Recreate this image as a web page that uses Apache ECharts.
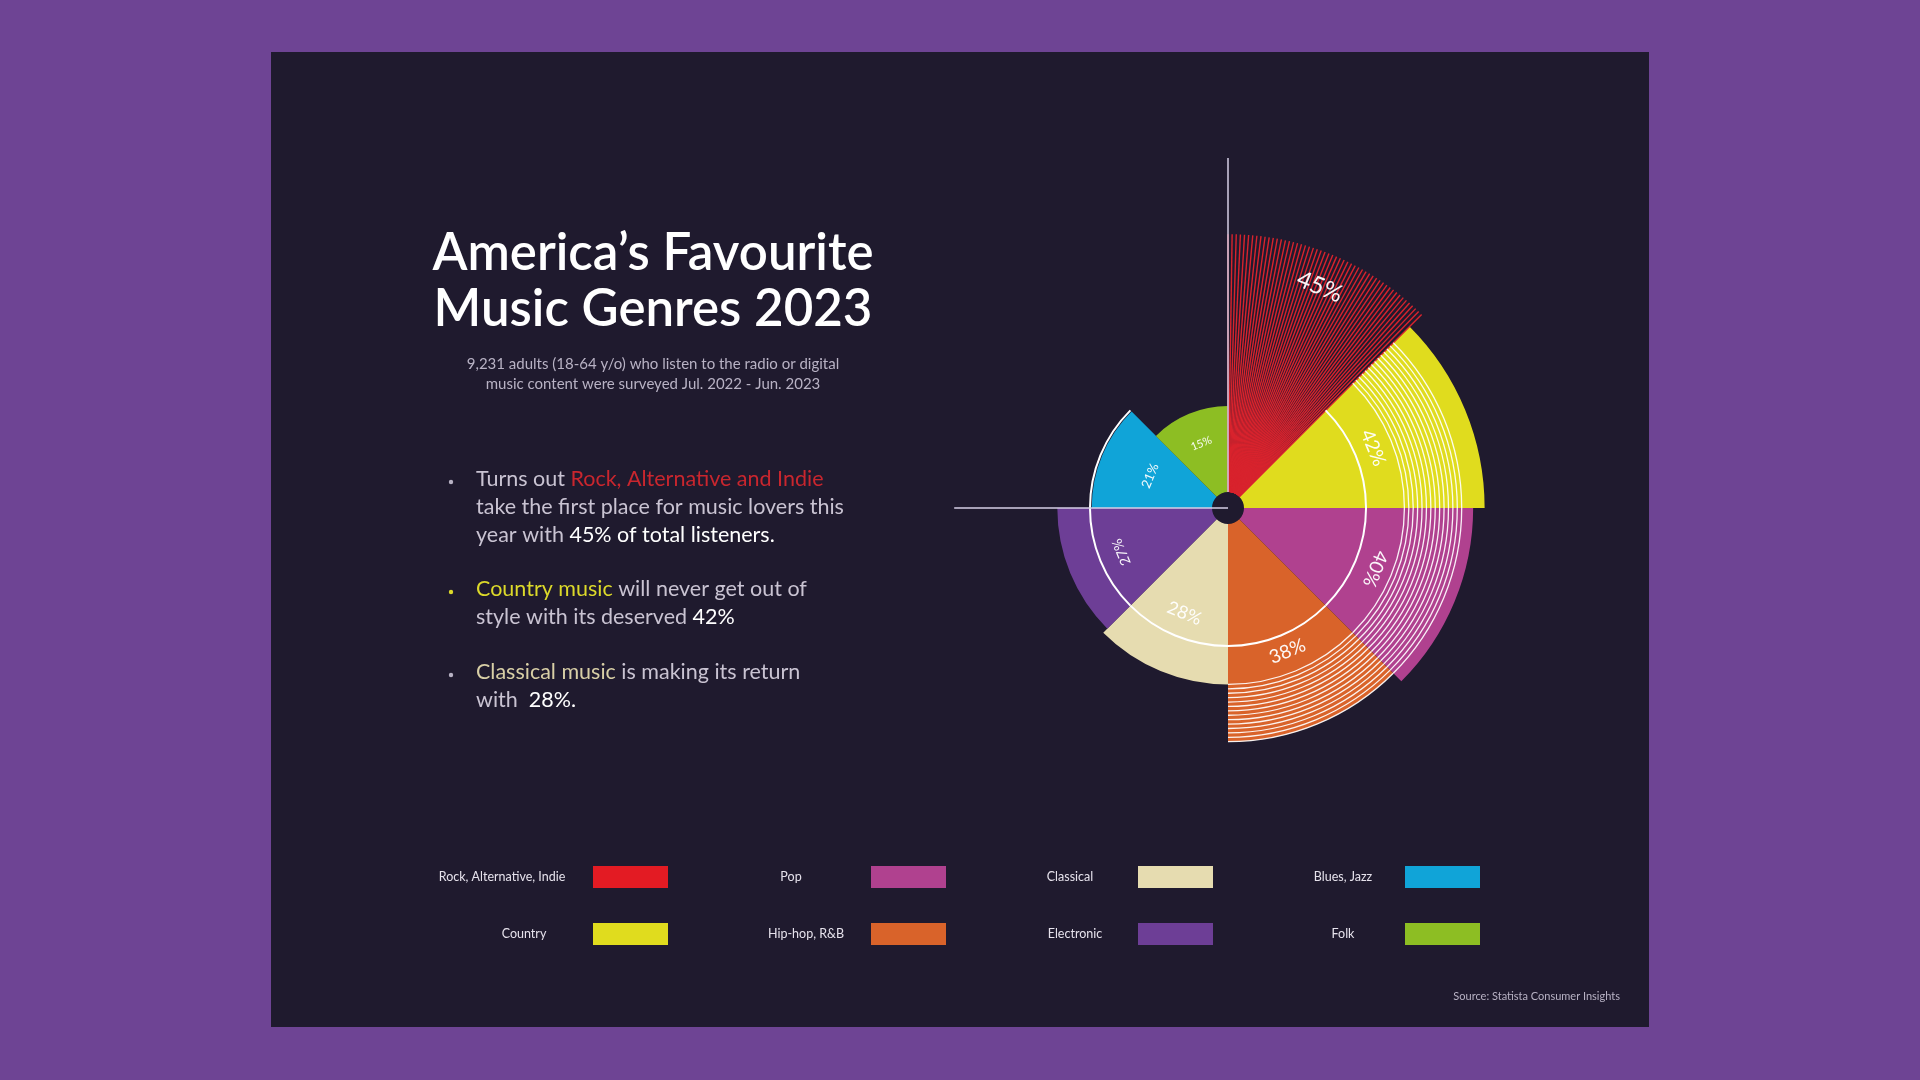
<!DOCTYPE html>
<html>
<head>
<meta charset="utf-8">
<script src="https://cdn.jsdelivr.net/npm/echarts@6/dist/echarts.min.js"></script>
<style>
  html, body { margin: 0; padding: 0; background: #6e4494; }
  #chart { width: 1920px; height: 1080px; }
</style>
</head>
<body>
<div id="chart"></div>
<script>
// data
const genres = ['Rock, Alternative, Indie', 'Country', 'Pop', 'Hip-hop, R&B', 'Classical', 'Electronic', 'Blues, Jazz', 'Folk'];
const shares = [45, 42, 40, 38, 28, 27, 21, 15];
const colors = ['#e31b23', '#e0dc1e', '#b0418f', '#d9632a', '#e6dcb0', '#6d3e96', '#10a4d8', '#8dbe23'];

// decoration settings (style, not data)
const striped = [false, true, true, true, false, false, false, false];
const labelRadius = [39, 24.6, 25, 24.3, 17.1, 17.3, 11.9, 9.4];
const labelSize = [24, 19, 19, 19, 18, 14, 13, 11];
const labelFlip = [false, false, false, true, true, false, false, false];
const ringValue = 21.3;
const stripeFrom = 28, stripeTo = 38, stripeCount = 14;
const axisMax = 58.3;

const chart = echarts.init(document.getElementById('chart'), null, { renderer: 'canvas' });

function pt(cs, v, deg) {
    const rr = cs.r0 + v / axisMax * (cs.r - cs.r0);
    const a = (deg - 90) * Math.PI / 180;
    return [cs.cx + rr * Math.cos(a), cs.cy + rr * Math.sin(a)];
}
function rad(cs, v) { return cs.r0 + v / axisMax * (cs.r - cs.r0); }

function renderDeco(params, api) {
    const cs = params.coordSys;
    const i = params.dataIndex;
    const v = api.value(0);
    const a0 = i * 45, a1 = a0 + 45, mid = a0 + 22.5;
    const children = [];
    const toRad = d => (d - 90) * Math.PI / 180;
    if (i === 0) {
        // hatched fan for the leading genre
        const n = 52;
        for (let k = 0; k <= n; k++) {
            const d = a0 + 45 * k / n;
            const p0 = pt(cs, 0, d), p1 = pt(cs, v, d);
            children.push({ type: 'line', shape: { x1: p0[0], y1: p0[1], x2: p1[0], y2: p1[1] },
                style: { stroke: '#d8232d', lineWidth: 1.4 } });
        }
        // axes lines
        const t0 = pt(cs, 0, 0), t1 = pt(cs, axisMax, 0);
        children.push({ type: 'line', shape: { x1: t0[0], y1: t0[1], x2: t1[0], y2: t1[1] },
            style: { stroke: '#d6cfe6', lineWidth: 1.5 }, z2: 5 });
        const l1 = pt(cs, 45, 270);
        children.push({ type: 'line', shape: { x1: cs.cx, y1: cs.cy, x2: l1[0], y2: l1[1] },
            style: { stroke: '#d6cfe6', lineWidth: 1.5 }, z2: 5 });
    }
    if (striped[i]) {
        for (let k = 0; k < stripeCount; k++) {
            const sv = stripeFrom + (stripeTo - stripeFrom) * k / (stripeCount - 1);
            children.push({ type: 'arc', shape: { cx: cs.cx, cy: cs.cy, r: rad(cs, sv),
                startAngle: toRad(a0), endAngle: toRad(a1), clockwise: true },
                style: { stroke: 'rgba(255,255,255,0.92)', lineWidth: 1.3, fill: null } });
        }
    }
    if (i > 0 && i < 7) {
        children.push({ type: 'arc', shape: { cx: cs.cx, cy: cs.cy, r: rad(cs, ringValue),
            startAngle: toRad(a0), endAngle: toRad(a1), clockwise: true },
            style: { stroke: '#ffffff', lineWidth: 2, fill: null } });
    }
    const lp = pt(cs, labelRadius[i], mid);
    const rot = labelFlip[i] ? mid - 180 : mid;
    children.push({ type: 'text', x: lp[0], y: lp[1], rotation: -rot * Math.PI / 180,
        style: { text: v + '%', fill: '#ffffff', fontSize: labelSize[i], fontFamily: 'Lato',
            align: 'center', verticalAlign: 'middle', opacity: 0.95 }, z2: 10 });
    return { type: 'group', children: children };
}

const cx = 1228, cy = 508;
const legendText = [[502, 791, 1070, 1343], [524, 806, 1075, 1343]];
const legendRect = [593, 871, 1138, 1405];
const legendRow = [877, 934];

const body = '21.5px Lato';
const graphics = [
    { type: 'rect', shape: { x: 271, y: 52, width: 1378, height: 975 }, style: { fill: '#1f1a2e' }, z: -10 },
    { type: 'text', x: 653, y: 282, style: { text: 'America’s Favourite\nMusic Genres 2023', fill: '#ffffff',
        font: '600 51px Lato', align: 'center', verticalAlign: 'middle', lineHeight: 56 } },
    { type: 'text', x: 653, y: 374, style: { text: '9,231 adults (18-64 y/o) who listen to the radio or digital\nmusic content were surveyed Jul. 2022 - Jun. 2023',
        fill: '#b8b2c4', font: '15px Lato', align: 'center', verticalAlign: 'middle', lineHeight: 20 } },
    { type: 'text', x: 476, y: 507, style: {
        text: '{g|Turns out }{r|Rock, Alternative and Indie}\n{g|take the first place for music lovers this}\n{g|year with }{w|45% of total listeners.}',
        verticalAlign: 'middle', lineHeight: 28,
        rich: { g: { fill: '#c9c3d2', font: body }, r: { fill: '#c9262e', font: body }, w: { fill: '#ffffff', font: body } } } },
    { type: 'text', x: 476, y: 603, style: {
        text: '{y|Country music}{g| will never get out of}\n{g|style with its deserved }{w|42%}',
        verticalAlign: 'middle', lineHeight: 28,
        rich: { g: { fill: '#c9c3d2', font: body }, y: { fill: '#dcd92a', font: body }, w: { fill: '#ffffff', font: body } } } },
    { type: 'text', x: 476, y: 686, style: {
        text: '{c|Classical music}{g| is making its return}\n{g|with  }{w|28%.}',
        verticalAlign: 'middle', lineHeight: 28,
        rich: { g: { fill: '#c9c3d2', font: body }, c: { fill: '#d8cfa6', font: body }, w: { fill: '#ffffff', font: body } } } },
    { type: 'circle', shape: { cx: 451, cy: 482, r: 2.2 }, style: { fill: '#b8b2c4' } },
    { type: 'circle', shape: { cx: 451, cy: 592, r: 2.2 }, style: { fill: '#dcd92a' } },
    { type: 'circle', shape: { cx: 451, cy: 675, r: 2.2 }, style: { fill: '#b8b2c4' } },
    { type: 'text', x: 1620, y: 996, style: { text: 'Source: Statista Consumer Insights', fill: '#b8b2c4',
        font: '11px Lato', align: 'right', verticalAlign: 'middle' } }
];
// legend
const legendOrder = [0, 2, 4, 6, 1, 3, 5, 7];
legendOrder.forEach((g, k) => {
    const col = k % 4, row = Math.floor(k / 4);
    graphics.push({ type: 'text', x: legendText[row][col], y: legendRow[row], style: { text: genres[g],
        fill: '#e6e2ec', font: '12.5px Lato', align: 'center', verticalAlign: 'middle' } });
    graphics.push({ type: 'rect', shape: { x: legendRect[col], y: legendRow[row] - 11, width: 75, height: 22 },
        style: { fill: colors[g] } });
});

const option = {
    backgroundColor: '#6e4494',
    animation: false,
    polar: { center: [cx, cy], radius: [16, 350] },
    angleAxis: {
        type: 'category', data: genres, startAngle: 90, clockwise: true,
        axisLine: { show: false }, axisTick: { show: false }, axisLabel: { show: false }, splitLine: { show: false }
    },
    radiusAxis: {
        type: 'value', min: 0, max: axisMax,
        axisLine: { show: false }, axisTick: { show: false }, axisLabel: { show: false }, splitLine: { show: false }
    },
    graphic: graphics,
    series: [
        {
            type: 'bar', coordinateSystem: 'polar', barCategoryGap: '0%', z: 2,
            data: shares.map((v, i) => ({ value: v, itemStyle: { color: i === 0 ? 'rgba(0,0,0,0)' : colors[i] } }))
        },
        {
            type: 'custom', coordinateSystem: 'polar', z: 3,
            encode: { radius: 0, angle: 1 },
            data: shares.map((v, i) => [v, i]),
            renderItem: renderDeco
        }
    ]
};
chart.setOption(option);
</script>
</body>
</html>
